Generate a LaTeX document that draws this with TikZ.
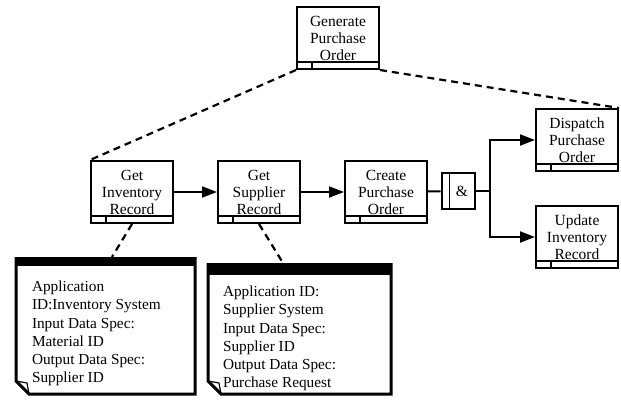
\documentclass[tikz,border=0pt]{standalone}
\usepackage{fontspec}
\setmainfont{Liberation Serif}
\usetikzlibrary{arrows.meta,positioning}

\newcommand{\boxfont}{\fontsize{15.5}{17}\selectfont}
\newcommand{\notefont}{\fontsize{15.3}{18.2}\selectfont}

\begin{document}
\begin{tikzpicture}[x=1pt,y=-1pt,node distance=127pt,line width=2pt,
    >={Triangle[length=15pt,width=11pt]}]
        \tikzstyle{activity}=[draw,line width=2pt,minimum width=82pt,minimum height=62pt,
            inner sep=0pt,align=center,font=\boxfont,
            path picture={\draw[line width=1.2pt]
                ([yshift=7pt]path picture bounding box.south west) --
                ([yshift=7pt]path picture bounding box.south east)
                ([xshift=15pt]path picture bounding box.south west) --
                ([xshift=15pt,yshift=7pt]path picture bounding box.south west);}]
        \tikzstyle{junction}=[draw,line width=2pt,minimum width=33pt,minimum height=36pt,
            inner sep=0pt,font=\boxfont,
            path picture={\draw[line width=1.5pt]
                ([xshift=8pt]path picture bounding box.south west) --
                ([xshift=8pt]path picture bounding box.north west);}]
        \tikzstyle{link}=[dash pattern=on 7pt off 5pt,line width=2.2pt]
        \tikzstyle{frame}=[line width=3pt,line join=miter]
        \tikzstyle{notetext}=[anchor=north west,inner sep=0pt,align=left,font=\notefont]

        \useasboundingbox (0,0) rectangle (621,402);

        \node[activity]  (genPO)  at (338,38)           {Generate\\Purchase\\Order};
        \node[activity]  (getInv) at (132,192)          {Get\\Inventory\\Record};
        \node[activity]  (getSup) [right of=getInv]     {Get\\Supplier\\Record};
        \node[activity]  (crePO)  [right of=getSup]     {Create\\Purchase\\Order};
        \node[junction]  (andJ)   at (458,191)          {\hspace*{8pt}\&};
        \node[activity]  (disPO)  at (577,140)          {Dispatch\\Purchase\\Order};
        \node[activity]  (updInv) [below of=disPO,node distance=97pt] {Update\\Inventory\\Record};
        \coordinate      (fork)   at (490,191);

        % decomposition
        \draw[link] (genPO.south west) -- (getInv.north west);
        \draw[link] (genPO.south east) -- (disPO.north east);

        % control flow
        \path[->] (getInv) edge (getSup)
                  (getSup) edge (crePO);
        \draw (crePO) -- (andJ);
        \draw (andJ) -- (fork);
        \draw[->] (fork) |- (disPO);
        \draw[->] (fork) |- (updInv);

        % annotations
        \coordinate (n1top) at (112,257);
        \coordinate (n2top) at (283,263);
        \fill (16,257) rectangle (195,266);
        \draw[frame] (16,257) -- (16,381) -- (29,394) -- (195,394) -- (195,257);
        \draw[line width=1.2pt] (16,381) -- (27,383) -- (29,394);
        \node[notetext] (n1text) at (31,280)
            {Application\\ID:Inventory System\\Input Data Spec:\\Material ID\\Output Data Spec:\\Supplier ID};

        \fill (208,263) rectangle (391,275);
        \draw[frame] (208,263) -- (208,381) -- (221,394) -- (391,394) -- (391,263);
        \draw[line width=1.2pt] (208,381) -- (219,383) -- (221,394);
        \node[notetext] (n2text) at (222,285)
            {Application ID:\\Supplier System\\Input Data Spec:\\Supplier ID\\Output Data Spec:\\Purchase Request};

        \draw[link] (getInv.south) -- (n1top);
        \draw[link] (getSup.south) -- (n2top);
\end{tikzpicture}
\end{document}
